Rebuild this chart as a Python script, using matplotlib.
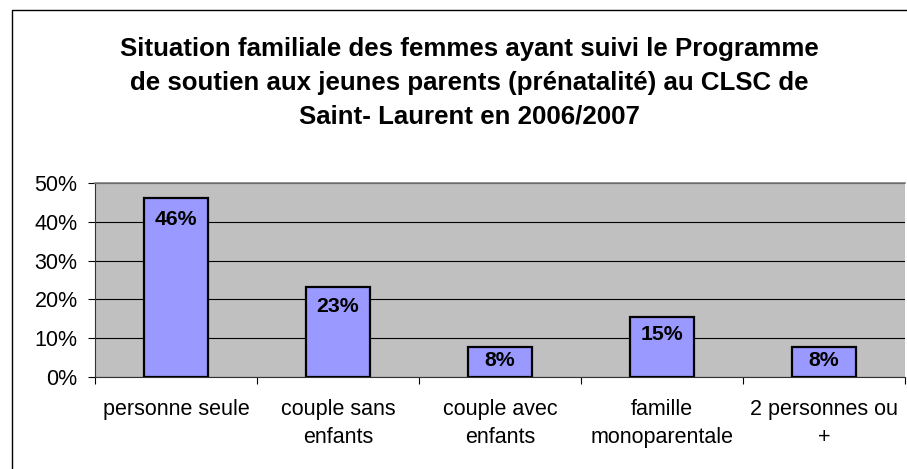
import matplotlib.pyplot as plt
from matplotlib.lines import Line2D

plt.rcParams['font.family'] = ['Liberation Sans', 'DejaVu Sans']

categories = ['personne seule', 'couple sans\nenfants', 'couple avec\nenfants',
              'famille\nmonoparentale', '2 personnes ou\n+']
values = [46.2, 23.1, 7.7, 15.4, 7.7]
labels = ['46%', '23%', '8%', '15%', '8%']
yticks = [0, 10, 20, 30, 40, 50]

# gap between bar top and its label, in points
label_offsets = [-9, -7, -2.5, -5.5, -2.5]

fig = plt.figure(figsize=(9.07, 4.69), dpi=100)
ax = fig.add_axes([95 / 907, 1 - 377 / 469, 810 / 907, 194 / 469])
ax.set_facecolor('#C0C0C0')

x = list(range(len(categories)))
ax.bar(x, values, width=0.4, color='#9999FF', edgecolor='black', linewidth=1.6, zorder=3)
for xi, v, lab, off in zip(x, values, labels, label_offsets):
    ax.annotate(lab, (xi, v), xytext=(0, off), textcoords='offset points',
                ha='center', va='top', fontsize=15.3, fontweight='bold', zorder=4)

ax.set_xlim(-0.5, len(categories) - 0.5)
ax.set_ylim(0, 50)
ax.set_yticks(yticks)
ax.set_yticklabels([f'{t}%' for t in yticks], fontsize=15.5)
ax.yaxis.grid(True, color='black', linewidth=0.8, zorder=1)
ax.set_axisbelow(True)

ax.set_xticks(x)
ax.set_xticklabels(categories, fontsize=15.5, linespacing=1.44)
ax.set_xticks([i - 0.5 for i in range(len(categories) + 1)], minor=True)
ax.tick_params(axis='x', which='major', length=0, pad=15.5)
ax.tick_params(axis='x', which='minor', length=5, width=0.8, direction='out')
ax.tick_params(axis='y', length=5, width=0.8, direction='out', pad=7.5)

ax.spines['top'].set_color('#808080')
ax.spines['top'].set_linewidth(1.2)
ax.spines['right'].set_visible(False)
ax.spines['left'].set_color('#333333')
ax.spines['bottom'].set_color('#333333')

fig.text(469 / 907, 1 - 83 / 469,
         'Situation familiale des femmes ayant suivi le Programme\n'
         'de soutien aux jeunes parents (prénatalité) au CLSC de\n'
         'Saint- Laurent en 2006/2007',
         ha='center', va='center', fontsize=18.6, fontweight='bold', linespacing=1.52)

# chart frame (left and top edges)
fig.add_artist(Line2D([12 / 907, 12 / 907, 1], [0, 1 - 10 / 469, 1 - 10 / 469],
                      transform=fig.transFigure, color='black', linewidth=1))

fig.savefig('out.png', dpi=100)
